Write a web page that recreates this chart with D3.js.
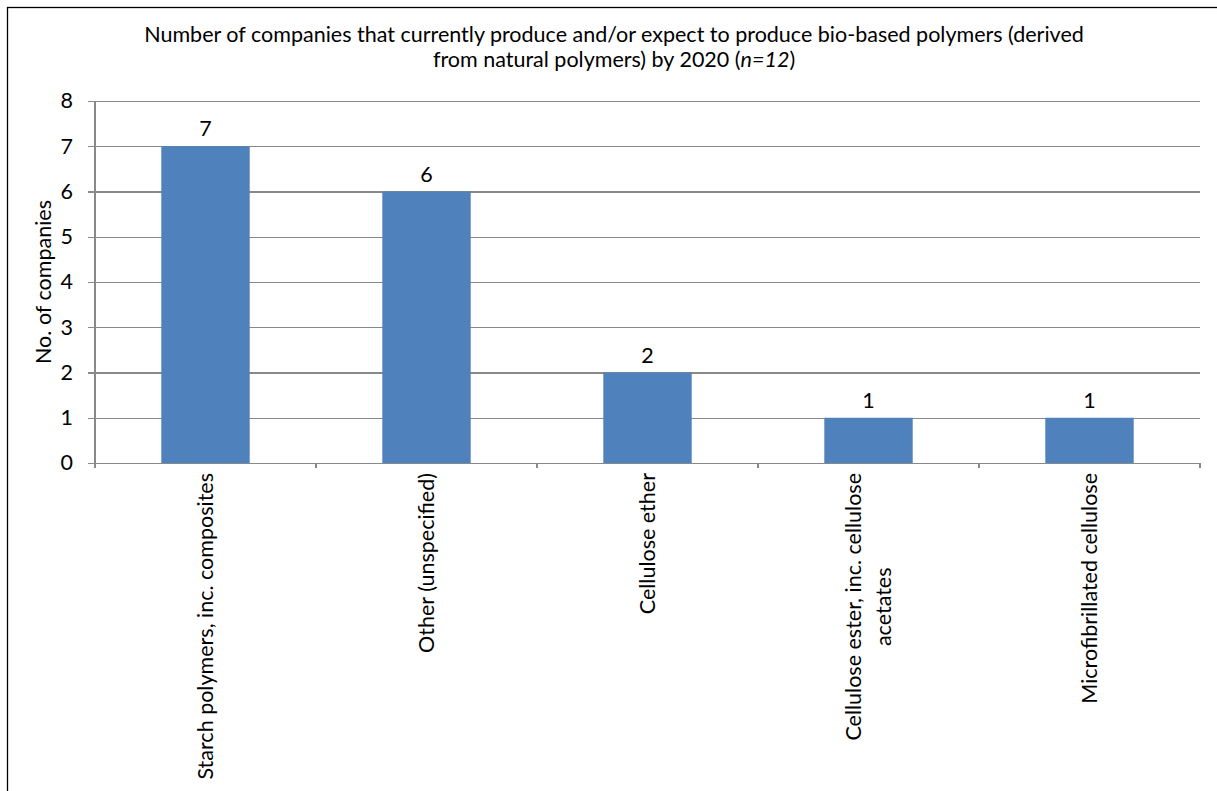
<!DOCTYPE html>
<html>
<head>
<meta charset="utf-8">
<script src="https://cdn.jsdelivr.net/npm/d3@7"></script>
<style>
  html, body { margin: 0; padding: 0; background: #fff; }
  svg { display: block; font-family: Lato, "Open Sans", sans-serif; }
</style>
</head>
<body>
<svg id="chart" width="1217" height="791"></svg>
<script>
// Bio-based polymers derived from natural polymers, companies per type
const categories = [
  ["Starch polymers, inc. composites"],
  ["Other (unspecified)"],
  ["Cellulose ether"],
  ["Cellulose ester, inc. cellulose", "acetates"],
  ["Microfibrillated cellulose"]
];
const values = [7, 6, 2, 1, 1];
const yTicks = [0, 1, 2, 3, 4, 5, 6, 7, 8];
const titleLines = [
  [{ t: "Number of companies that currently produce and/or expect to produce bio-based polymers (derived" }],
  [{ t: "from natural polymers) by 2020 (" }, { t: "n=12", i: true }, { t: ")" }]
];
const yTitle = "No. of companies";

const svg = d3.select("#chart");
const W = 1217, H = 791;
const plot = { left: 95, right: 1200, top: 101, bottom: 463 };
const fontSize = 21.5;
const barColor = "#4F81BD";
const gridColor = "#898989";

// outer frame
svg.append("rect")
  .attr("x", 7.5).attr("y", 7.5)
  .attr("width", W).attr("height", H)
  .attr("fill", "none").attr("stroke", "#000").attr("stroke-width", 1.3);

const keys = categories.map(d => d.join(" "));
const x = d3.scaleBand().domain(keys)
  .range([plot.left, plot.right])
  .paddingInner(0.6).paddingOuter(0.3);
const y = d3.scaleLinear().domain([0, 8]).range([plot.bottom, plot.top]);

// horizontal gridlines with left tick marks
const yAxis = d3.axisLeft(y).tickValues(yTicks).tickSize(-(plot.right - plot.left)).tickSizeOuter(0).tickPadding(22);
const gy = svg.append("g")
  .attr("transform", `translate(${plot.left},0)`)
  .call(yAxis);
gy.select(".domain").remove();
gy.selectAll(".tick line")
  .attr("x1", -7)
  .attr("stroke", gridColor).attr("stroke-width", 1.2)
  .attr("shape-rendering", "crispEdges");
gy.selectAll(".tick text")
  .attr("font-size", fontSize).attr("fill", "#000")
  .attr("font-family", "Lato, sans-serif");

// vertical axis line
svg.append("line")
  .attr("x1", plot.left).attr("x2", plot.left)
  .attr("y1", plot.top).attr("y2", plot.bottom + 5)
  .attr("stroke", gridColor).attr("stroke-width", 1.2)
  .attr("shape-rendering", "crispEdges");

// category boundary ticks under the baseline
const step = x.step();
const boundaries = d3.range(keys.length + 1).map(i => plot.left + i * step);
svg.append("g").selectAll("line").data(boundaries).join("line")
  .attr("x1", d => d).attr("x2", d => d)
  .attr("y1", plot.bottom).attr("y2", plot.bottom + 5)
  .attr("stroke", gridColor).attr("stroke-width", 1.2)
  .attr("shape-rendering", "crispEdges");

// bars
svg.append("g").selectAll("rect").data(values).join("rect")
  .attr("x", (d, i) => x(keys[i]))
  .attr("y", d => y(d))
  .attr("width", x.bandwidth())
  .attr("height", d => y(0) - y(d))
  .attr("fill", barColor);

// value labels
svg.append("g").selectAll("text").data(values).join("text")
  .attr("x", (d, i) => x(keys[i]) + x.bandwidth() / 2)
  .attr("y", d => y(d) - 10)
  .attr("text-anchor", "middle")
  .attr("font-size", fontSize)
  .text(d => d);

// rotated category labels, wrapped lines centred on each other
const lineGap = 30;
categories.forEach((lines, i) => {
  const cx = x(keys[i]) + x.bandwidth() / 2;
  const g = svg.append("g");
  const texts = lines.map((s, j) => g.append("text")
    .attr("font-size", fontSize)
    .attr("text-anchor", "middle")
    .text(s));
  const maxLen = d3.max(texts, t => t.node().getComputedTextLength());
  const midY = plot.bottom + 10 + maxLen / 2;
  const n = lines.length;
  texts.forEach((t, j) => {
    const off = (j - (n - 1) / 2) * lineGap;
    const bx = cx + off + 7;
    t.attr("transform", `translate(${bx},${midY}) rotate(-90)`);
  });
});

// y axis title
svg.append("text")
  .attr("transform", `translate(51,${(plot.top + plot.bottom) / 2}) rotate(-90)`)
  .attr("text-anchor", "middle")
  .attr("font-size", fontSize)
  .text(yTitle);

// chart title
titleLines.forEach((parts, j) => {
  const t = svg.append("text")
    .attr("x", 614)
    .attr("y", 42 + j * 25)
    .attr("text-anchor", "middle")
    .attr("font-size", fontSize);
  parts.forEach(p => {
    t.append("tspan").attr("font-style", p.i ? "italic" : null).text(p.t);
  });
});
</script>
</body>
</html>
